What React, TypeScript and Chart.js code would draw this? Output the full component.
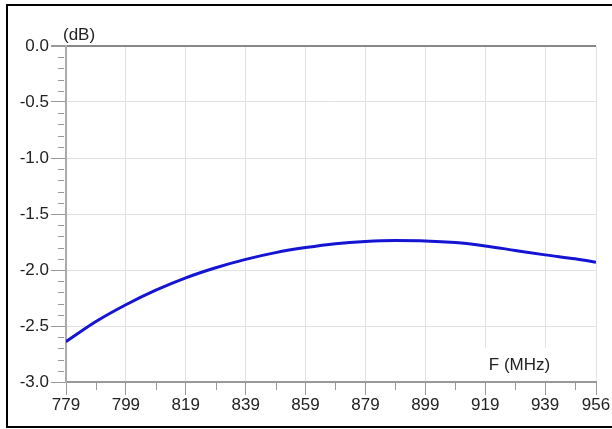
import React, { useEffect, useRef } from 'react';
import { Chart, registerables } from 'chart.js';

Chart.register(...registerables);

const freqs = [779, 789, 799, 809, 819, 829, 839, 849, 859, 869, 879, 889, 899, 909, 919, 929, 939, 949, 956];
const lossDb = [-2.64, -2.46, -2.31, -2.18, -2.07, -1.98, -1.905, -1.845, -1.8, -1.765, -1.745, -1.737, -1.74, -1.755, -1.785, -1.825, -1.865, -1.9, -1.93];

const xMajorTicks = [779, 799, 819, 839, 859, 879, 899, 919, 939, 956];
const xMinorTicks = [789, 809, 829, 849, 869, 889, 909, 929, 949];
const yMajorTicks = [0, -0.5, -1, -1.5, -2, -2.5, -3];
const yMinorTicks = [-0.1, -0.2, -0.3, -0.4, -0.6, -0.7, -0.8, -0.9, -1.1, -1.2, -1.3, -1.4, -1.6, -1.7, -1.8, -1.9, -2.1, -2.2, -2.3, -2.4, -2.6, -2.7, -2.8, -2.9];

const yUnit = '(dB)';
const xUnit = 'F (MHz)';

const FONT = '"Liberation Sans", Arial, sans-serif';

const decorPlugin = {
  id: 'decor',
  afterDraw(chart: any) {
    const { ctx, scales, chartArea } = chart;
    const x = scales.x;
    const y = scales.y;
    ctx.save();
    // minor ticks
    ctx.strokeStyle = '#999';
    ctx.lineWidth = 1;
    ctx.beginPath();
    for (const v of yMinorTicks) {
      const py = Math.round(y.getPixelForValue(v)) + 0.5;
      ctx.moveTo(chartArea.left - 8, py);
      ctx.lineTo(chartArea.left - 2, py);
    }
    for (const v of xMinorTicks) {
      const px = Math.round(x.getPixelForValue(v)) + 0.5;
      ctx.moveTo(px, chartArea.bottom + 1);
      ctx.lineTo(px, chartArea.bottom + 8);
    }
    ctx.stroke();

    // unit labels
    ctx.fillStyle = '#222';
    ctx.font = '17px ' + FONT;
    ctx.textBaseline = 'middle';
    ctx.textAlign = 'left';
    ctx.fillText(yUnit, chartArea.left - 3, chartArea.top - 11);

    ctx.fillStyle = '#fff';
    ctx.fillRect(483, 348, 74, 33);
    ctx.fillStyle = '#222';
    ctx.textAlign = 'center';
    ctx.fillText(xUnit, 519.5, 365);

    // outer frame
    ctx.strokeStyle = '#000';
    ctx.lineWidth = 2;
    ctx.strokeRect(7, 5, 620, 422);
    ctx.restore();
  },
};

export default function App() {
  const ref = useRef<HTMLCanvasElement>(null);
  useEffect(() => {
    if (!ref.current) return;
    const chart = new Chart(ref.current, {
      type: 'line',
      data: {
        datasets: [
          {
            data: freqs.map((f, i) => ({ x: f, y: lossDb[i] })),
            borderColor: '#1414d2',
            borderWidth: 3,
            pointRadius: 0,
            tension: 0.4,
            cubicInterpolationMode: 'monotone',
            fill: false,
          },
        ],
      },
      options: {
        responsive: false,
        animation: false,
        events: [],
        layout: { padding: { left: 0, top: 46, right: 16, bottom: 0 } },
        plugins: { legend: { display: false }, tooltip: { enabled: false } },
        scales: {
          x: {
            type: 'linear',
            min: 779,
            max: 956,
            afterBuildTicks: (s: any) => {
              s.ticks = xMajorTicks.map((v) => ({ value: v }));
            },
            afterFit: (s: any) => {
              s.height = 47;
            },
            grid: {
              color: '#e2e2e2',
              lineWidth: 1,
              tickColor: '#999',
              tickLength: 13,
              drawTicks: true,
            },
            border: { display: true, color: '#999', width: 2 },
            ticks: {
              autoSkip: false,
              maxRotation: 0,
              padding: 0,
              color: '#222',
              font: { family: FONT, size: 17 },
              callback: (v: any) => String(v),
            },
          },
          y: {
            type: 'linear',
            min: -3,
            max: 0,
            afterBuildTicks: (s: any) => {
              s.ticks = yMajorTicks.map((v) => ({ value: v }));
            },
            afterFit: (s: any) => {
              s.width = 66;
            },
            grid: {
              color: (c: any) => (c.tick && c.tick.value === 0 ? '#888' : '#e2e2e2'),
              lineWidth: (c: any) => (c.tick && c.tick.value === 0 ? 2 : 1),
              tickColor: '#999',
              tickLength: 15,
              drawTicks: true,
            },
            border: { display: true, color: '#aaa', width: 2 },
            ticks: {
              padding: 2,
              color: '#222',
              font: { family: FONT, size: 17 },
              callback: (v: any) => Number(v).toFixed(1),
            },
          },
        },
      },
      plugins: [decorPlugin],
    });
    return () => chart.destroy();
  }, []);
  return (
    <div style={{ position: 'fixed', left: 0, top: 0, width: 612, height: 429, background: '#fff' }}>
      <canvas ref={ref} width={612} height={429} style={{ display: 'block' }} />
    </div>
  );
}
